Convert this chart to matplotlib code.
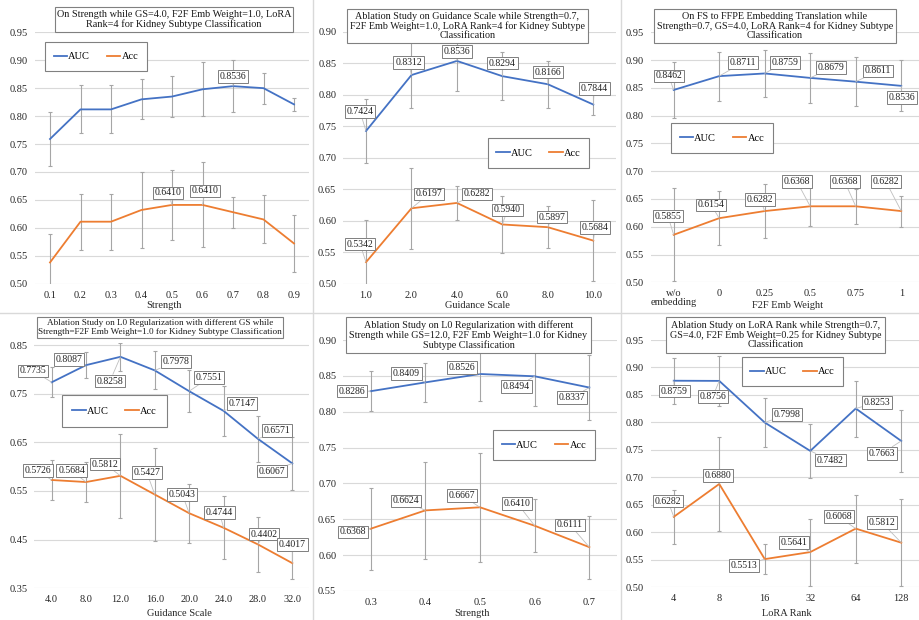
import matplotlib
matplotlib.use('Agg')
import matplotlib.pyplot as plt
from matplotlib.lines import Line2D
from matplotlib.patches import Rectangle
from matplotlib.ticker import FormatStrFormatter
import numpy as np

plt.rcParams['font.family'] = ['Liberation Serif', 'DejaVu Serif']

# ---------------- data ----------------
p1_cats = ['0.1', '0.2', '0.3', '0.4', '0.5', '0.6', '0.7', '0.8', '0.9']
p1_auc = [0.759, 0.812, 0.812, 0.830, 0.835, 0.848, 0.8536, 0.850, 0.821]
p1_auc_err = [0.048, 0.043, 0.043, 0.036, 0.036, 0.048, 0.046, 0.028, 0.012]
p1_acc = [0.538, 0.611, 0.611, 0.632, 0.6410, 0.6410, 0.628, 0.615, 0.572]
p1_acc_err = [0.051, 0.050, 0.050, 0.068, 0.063, 0.076, 0.028, 0.043, 0.051]

p2_cats = ['1.0', '2.0', '4.0', '6.0', '8.0', '10.0']
p2_auc = [0.7424, 0.8312, 0.8536, 0.8294, 0.8166, 0.7844]
p2_auc_err = [0.051, 0.053, 0.047, 0.038, 0.037, 0.017]
p2_acc = [0.5342, 0.6197, 0.6282, 0.5940, 0.5897, 0.5684]
p2_acc_err = [0.067, 0.064, 0.027, 0.045, 0.033, 0.064]

p3_cats = ['w/o\nembedding', '0', '0.25', '0.5', '0.75', '1']
p3_auc = [0.8462, 0.8711, 0.8759, 0.8679, 0.8611, 0.8536]
p3_auc_err = [0.050, 0.044, 0.043, 0.045, 0.044, 0.046]
p3_acc = [0.5855, 0.6154, 0.6282, 0.6368, 0.6368, 0.6282]
p3_acc_err = [0.084, 0.049, 0.048, 0.036, 0.031, 0.028]

p4_cats = ['4.0', '8.0', '12.0', '16.0', '20.0', '24.0', '28.0', '32.0']
p4_auc = [0.7735, 0.8087, 0.8258, 0.7978, 0.7551, 0.7147, 0.6571, 0.6067]
p4_auc_err = [0.031, 0.027, 0.029, 0.039, 0.043, 0.052, 0.047, 0.054]
p4_acc = [0.5726, 0.5684, 0.5812, 0.5427, 0.5043, 0.4744, 0.4402, 0.4017]
p4_acc_err = [0.042, 0.041, 0.086, 0.095, 0.061, 0.065, 0.056, 0.033]

p5_cats = ['0.3', '0.4', '0.5', '0.6', '0.7']
p5_auc = [0.8286, 0.8409, 0.8526, 0.8494, 0.8337]
p5_auc_err = [0.028, 0.027, 0.037, 0.041, 0.045]
p5_acc = [0.6368, 0.6624, 0.6667, 0.6410, 0.6111]
p5_acc_err = [0.057, 0.068, 0.076, 0.037, 0.044]

p6_cats = ['4', '8', '16', '32', '64', '128']
p6_auc = [0.8759, 0.8756, 0.7998, 0.7482, 0.8253, 0.7663]
p6_auc_err = [0.042, 0.046, 0.045, 0.049, 0.051, 0.056]
p6_acc = [0.6282, 0.6880, 0.5513, 0.5641, 0.6068, 0.5812]
p6_acc_err = [0.049, 0.085, 0.027, 0.061, 0.062, 0.079]

titles = [
    'On Strength while GS=4.0, F2F Emb Weight=1.0, LoRA\nRank=4 for Kidney Subtype Classification',
    'Ablation Study on Guidance Scale while Strength=0.7,\nF2F Emb Weight=1.0, LoRA Rank=4 for Kidney Subtype\nClassification',
    'On FS to FFPE Embedding Translation while\nStrength=0.7, GS=4.0, LoRA Rank=4 for Kidney Subtype\nClassification',
    'Ablation Study on L0 Regularization with different GS while\nStrength=F2F Emb Weight=1.0 for Kidney Subtype Classification',
    'Ablation Study on L0 Regularization with different\nStrength while GS=12.0, F2F Emb Weight=1.0 for Kidney\nSubtype Classification',
    'Ablation Study on LoRA Rank while Strength=0.7,\nGS=4.0, F2F Emb Weight=0.25 for Kidney Subtype\nClassification',
]
xlabels = ['Strength', 'Guidance Scale', 'F2F Emb Weight', 'Guidance Scale', 'Strength', 'LoRA Rank']

# ---------------- layout (pixels) ----------------
W, H = 920, 620
BLUE, ORANGE = '#4472C4', '#ED7D31'

panels = [
    dict(cats=p1_cats, auc=p1_auc, auc_err=p1_auc_err, acc=p1_acc, acc_err=p1_acc_err,
         box=(34.75, 309.25, 32.3, 283.7), ylim=(0.50, 0.95), ticks=np.arange(0.50, 0.951, 0.05),
         title_box=(55, 293, 7, 32), title_fs=7.4, leg_box=(45, 147, 42, 71), xlab=(164, 305),
         auc_lab={6: (0, 9.5)}, acc_lab={4: (-3.7, 12), 5: (2.5, 14)}),
    dict(cats=p2_cats, auc=p2_auc, auc_err=p2_auc_err, acc=p2_acc, acc_err=p2_acc_err,
         box=(343.3, 616, 31.7, 283.7), ylim=(0.50, 0.90), ticks=np.arange(0.50, 0.901, 0.05),
         title_box=(347, 588, 9, 43), title_fs=7.25, leg_box=(488, 589, 138, 168), xlab=(477, 305.5),
         auc_lab={0: (-6, 19.3), 1: (-3, 12.4), 2: (0, 9.2), 3: (0, 13), 4: (0, 12), 5: (1, 16)},
         acc_lab={0: (-6, 18), 1: (17.5, 14.3), 2: (20, 9), 3: (5, 14.5), 4: (4, 10), 5: (2, 13)}),
    dict(cats=p3_cats, auc=p3_auc, auc_err=p3_auc_err, acc=p3_acc, acc_err=p3_acc_err,
         box=(650.9, 924, 32.3, 282.3), ylim=(0.50, 0.95), ticks=np.arange(0.50, 0.951, 0.05),
         title_box=(654, 896, 9, 43), title_fs=7.25, leg_box=(671, 773, 123, 153), xlab=(788, 305),
         auc_lab={0: (-5, 14.2), 1: (24, 13.8), 2: (20, 11.2), 3: (21, 10.2), 4: (22.3, 10.7), 5: (0.7, -11.5)},
         acc_lab={0: (-5.7, 18.8), 1: (-8, 13.2), 2: (-4.4, 11.8), 3: (-13.2, 24.6), 4: (-11, 24.6), 5: (-15.3, 29.4)}),
    dict(cats=p4_cats, auc=p4_auc, auc_err=p4_auc_err, acc=p4_acc, acc_err=p4_acc_err,
         box=(34.5, 309.5, 342.6, 588.3), ylim=(0.35, 0.855), ticks=np.arange(0.35, 0.851, 0.10),
         title_box=(37, 283, 317, 338), title_fs=6.6, leg_box=(62, 167, 395, 427), xlab=(179, 613),
         auc_lab={0: (-18.4, 11.5), 1: (-16.8, 5.8), 2: (-10.4, -24.2), 3: (20.9, 8.7), 4: (19.8, 13.5),
                  5: (18.2, 7.5), 6: (19.4, 8.2), 7: (-20.6, -7.6)},
         acc_lab={0: (-14, 9.3), 1: (-14.4, 11.3), 2: (-15.4, 11.8), 3: (-8.1, 22.2), 4: (-6.9, 18.9),
                  5: (-4.2, 15.5), 6: (6, 10.4), 7: (0, 18.8)}),
    dict(cats=p5_cats, auc=p5_auc, auc_err=p5_auc_err, acc=p5_acc, acc_err=p5_acc_err,
         box=(343.3, 616.7, 340, 591), ylim=(0.55, 0.90), ticks=np.arange(0.55, 0.901, 0.05),
         title_box=(346, 591, 317, 353), title_fs=7.3, leg_box=(493, 595, 430, 460), xlab=(472, 613.5),
         auc_lab={0: (-19, 0), 1: (-18.7, 9), 2: (-18.3, 6.3), 3: (-18, -10.4), 4: (-17.6, -10)},
         acc_lab={0: (-17.4, -3), 1: (-19.7, 9.4), 2: (-17.7, 11.6), 3: (-17.4, 22.4), 4: (-19.3, 22.2)}),
    dict(cats=p6_cats, auc=p6_auc, auc_err=p6_auc_err, acc=p6_acc, acc_err=p6_acc_err,
         box=(651, 924, 340, 587.3), ylim=(0.50, 0.95), ticks=np.arange(0.50, 0.951, 0.05),
         title_box=(666, 885, 317, 353), title_fs=7.3, leg_box=(742, 843, 357, 386), xlab=(787, 613),
         auc_lab={0: (0.6, -10.3), 1: (-6.5, -15.8), 2: (22.3, 8.2), 3: (20.1, -9.1), 4: (21.3, 6.2), 5: (-19.3, -12.4)},
         acc_lab={0: (-5.7, 15.8), 1: (-1.2, 8.3), 2: (-21, -6.6), 3: (-16.5, 9.8), 4: (-17, 11.9), 5: (-19.3, 20)}),
]

fig = plt.figure(figsize=(W / 100, H / 100), dpi=100)
fig.patch.set_facecolor('white')


def fx(x):
    return x / W


def fy(y):
    return 1 - y / H


def add_label(ax, i, v, off):
    ax.annotate(f'{v:.4f}', xy=(i, v), xytext=off, textcoords='offset pixels',
                ha='center', va='center', fontsize=7, color='#222222', zorder=6,
                bbox=dict(boxstyle='square,pad=0.18', fc='white', ec='#7F7F7F', lw=0.7),
                arrowprops=dict(arrowstyle='-', color='#BFBFBF', lw=0.6, shrinkA=0, shrinkB=0))


for k, p in enumerate(panels):
    l, r, t, b = p['box']
    ax = fig.add_axes([fx(l), fy(b), (r - l) / W, (b - t) / H])
    n = len(p['cats'])
    x = np.arange(n)
    ax.set_xlim(-0.5, n - 0.5)
    ax.set_ylim(*p['ylim'])
    ax.set_yticks(p['ticks'])
    ax.yaxis.set_major_formatter(FormatStrFormatter('%.2f'))
    ax.set_xticks(x)
    ax.set_xticklabels(p['cats'], linespacing=1.0)
    ax.grid(axis='y', color='#D9D9D9', lw=0.8)
    ax.set_axisbelow(True)
    for s in ax.spines.values():
        s.set_visible(False)
    ax.tick_params(axis='both', length=0, labelsize=7.5, labelcolor='#262626')
    ax.tick_params(axis='x', pad=5)
    ax.tick_params(axis='y', pad=5)
    ax.set_facecolor('none')

    for vals, errs, col in ((p['auc'], p['auc_err'], BLUE), (p['acc'], p['acc_err'], ORANGE)):
        ax.errorbar(x, vals, yerr=errs, fmt='none', ecolor='#A6A6A6', elinewidth=0.8,
                    capsize=1.5, capthick=0.8, zorder=2)
        ax.plot(x, vals, color=col, lw=1.3, zorder=3)

    for i, off in p['auc_lab'].items():
        add_label(ax, i, p['auc'][i], off)
    for i, off in p['acc_lab'].items():
        add_label(ax, i, p['acc'][i], off)

    # title box
    x0, x1, y0, y1 = p['title_box']
    fig.add_artist(Rectangle((fx(x0), fy(y1)), (x1 - x0) / W, (y1 - y0) / H,
                             transform=fig.transFigure, fc='white', ec='#808080', lw=0.8, zorder=2))
    fig.text(fx((x0 + x1) / 2), fy((y0 + y1) / 2), titles[k], ha='center', va='center',
             fontsize=p['title_fs'], linespacing=1.08, color='#1a1a1a', zorder=3)

    # legend box
    x0, x1, y0, y1 = p['leg_box']
    fig.add_artist(Rectangle((fx(x0), fy(y1)), (x1 - x0) / W, (y1 - y0) / H,
                             transform=fig.transFigure, fc='white', ec='#808080', lw=0.8, zorder=2))
    handles = [Line2D([], [], color=BLUE, lw=1.3), Line2D([], [], color=ORANGE, lw=1.3)]
    fig.legend(handles, ['AUC', 'Acc'], loc='center',
               bbox_to_anchor=(fx((x0 + x1) / 2), fy((y0 + y1) / 2)),
               bbox_transform=fig.transFigure, ncol=2, frameon=False, fontsize=7.5,
               handlelength=1.3, handletextpad=0.1, columnspacing=1.6, borderpad=0.1)

    fig.text(fx(p['xlab'][0]), fy(p['xlab'][1]), xlabels[k], ha='center', va='center',
             fontsize=7.5, color='#262626', zorder=3)

# panel separators
for xs in (313, 621):
    fig.add_artist(Line2D([fx(xs), fx(xs)], [0, 1], transform=fig.transFigure, color='#D9D9D9', lw=1.0, zorder=4))
fig.add_artist(Line2D([0, 1], [fy(313), fy(313)], transform=fig.transFigure, color='#D9D9D9', lw=1.0, zorder=4))

fig.savefig('out.png', dpi=100, facecolor='white')
